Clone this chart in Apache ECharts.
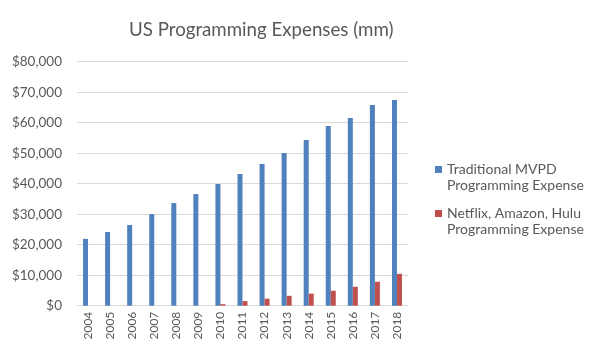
<!DOCTYPE html>
<html><head><meta charset="utf-8">
<script src="https://cdn.jsdelivr.net/npm/echarts@6/dist/echarts.min.js"></script>
<style>html,body{margin:0;padding:0;background:#fff}#c{width:600px;height:360px}</style>
</head><body><div id="c"></div>
<script>
const years = ['2004','2005','2006','2007','2008','2009','2010','2011','2012','2013','2014','2015','2016','2017','2018'];
const mvpd = [21900,24150,26450,30050,33650,36600,39900,43200,46450,50050,54300,58900,61550,65800,67450];
const ott = [0,0,0,0,0,0,500,1500,2300,3250,3950,4900,6200,7850,10450];
const seriesNames = ['Traditional MVPD\nProgramming Expense','Netflix, Amazon, Hulu\nProgramming Expense'];
const yTicks = {min:0, max:80000, interval:10000};

const chart = echarts.init(document.getElementById('c'), null, {renderer:'canvas'});
const font = 'Lato, "Open Sans", sans-serif';
chart.setOption({
  animation:false,
  textStyle:{fontFamily:font},
  title:{text:'US Programming Expenses (mm)', left:124, top:15,
    textStyle:{fontFamily:font, fontSize:18.7, fontWeight:'normal', color:'#595959'}},
  legend:{orient:'vertical', left:430, top:156.5, itemWidth:7, itemHeight:23, itemGap:12,
    icon:'path://M0,0h7v7h-7zM0,23h7',
    textStyle:{fontFamily:font, fontSize:14, color:'#595959', lineHeight:16},
    data:seriesNames},
  grid:{left:77, right:192, top:61.7, bottom:54.3, containLabel:false},
  xAxis:{type:'category', data:years,
    axisLine:{lineStyle:{color:'#d9d9d9'}}, axisTick:{show:false},
    axisLabel:{rotate:90, color:'#595959', fontSize:12, fontFamily:font, margin:6}},
  yAxis:{type:'value', min:yTicks.min, max:yTicks.max, interval:yTicks.interval,
    axisLine:{show:false}, axisTick:{show:false},
    splitLine:{lineStyle:{color:'#d9d9d9'}},
    axisLabel:{color:'#595959', fontSize:13.5, fontFamily:font, margin:15,
      formatter:v=>'$'+v.toLocaleString('en-US')}},
  series:[
    {name:seriesNames[0], type:'bar', data:mvpd, itemStyle:{color:'#4F81BD'}, barWidth:5, barGap:'0%'},
    {name:seriesNames[1], type:'bar', data:ott, itemStyle:{color:'#C0504D'}, barWidth:5}
  ]
});
</script></body></html>
